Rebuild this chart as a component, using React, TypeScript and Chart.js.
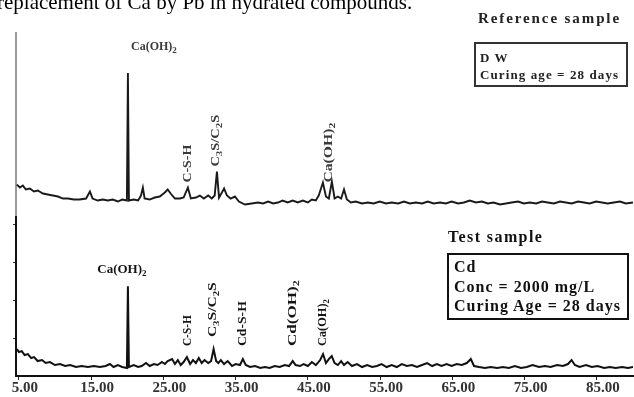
import React, { useEffect, useRef } from "react";
import { Chart, registerables } from "chart.js";

Chart.register(...registerables);

// ---------- data ----------
const xTickValues = [5, 15, 25, 35, 45, 55, 65, 75, 85];
const xTickLabels = ["5.00", "15.00", "25.00", "35.00", "45.00", "55.00", "65.00", "75.00", "85.00"];
const yBotTickValues = [37.5, 75.5, 114, 152];

// Reference sample (D W, 28 days) – 2θ and intensity (a.u.)
const topTheta = [
  4.72, 5.14, 5.55, 5.97, 6.52, 7.08, 7.63, 8.32, 9.0, 9.7, 10.4, 11.1, 11.8, 12.6, 13.4, 14.3, 14.83, 15.2,
  15.9, 16.6, 17.3, 18.0, 18.7, 19.3, 19.95, 20.09, 20.23, 20.9, 21.5, 21.9, 22.16, 22.4, 23.1, 23.8, 24.5,
  25.2, 25.6, 26.0, 26.6, 27.3, 27.8, 28.39, 28.8, 29.5, 30.05, 30.6, 31.2, 31.7, 32.1, 32.41, 32.7, 33.1,
  33.4, 33.8, 34.3, 34.9, 35.45, 36.3, 37.2, 38.1, 38.8, 39.5, 40.2, 40.85, 41.5, 42.2, 42.9, 43.6, 44.3,
  45.0, 45.55, 46.1, 46.5, 47.08, 47.5, 47.9, 48.32, 48.7, 49.15, 49.6, 50.0, 50.4, 50.95, 51.6, 52.5, 53.3,
  54.1, 54.96, 55.8, 56.6, 57.5, 58.3, 59.1, 59.95, 60.8, 61.6, 62.4, 63.3, 64.1, 64.9, 65.8, 66.6, 67.4,
  68.25, 69.1, 69.9, 70.7, 71.6, 72.4, 73.2, 74.1, 74.9, 75.7, 76.6, 77.4, 78.2, 79.05, 79.9, 80.7, 81.5,
  82.4, 83.2, 84.0, 84.9, 85.7, 86.5, 87.35, 88.2, 89.0, 90.0,
];
const topIntensity = [
  31, 28, 30, 26, 27, 24, 25, 22, 21, 20, 19, 17, 17, 16, 16, 17, 24, 17,
  15, 16, 15, 16, 14, 16, 15, 143, 15, 16, 15, 20, 28, 17, 16, 18, 19,
  23, 26, 22, 17, 17, 18, 28, 17, 18, 20, 17, 20, 17, 20, 44, 18, 23,
  27, 20, 17, 19, 14, 11, 12, 13, 12, 14, 12, 13, 15, 13, 15, 13, 15,
  13, 16, 15, 20, 33, 19, 17, 34, 17, 19, 17, 26, 16, 13, 14, 12, 13,
  12, 14, 12, 13, 12, 14, 12, 13, 12, 14, 12, 13, 12, 14, 12, 13, 15,
  13, 14, 12, 13, 11, 12, 13, 14, 12, 13, 12, 14, 13, 12, 14, 13, 12,
  14, 13, 12, 14, 13, 12, 13, 14, 12, 13,
];

// Test sample (Cd 2000 mg/L, 28 days)
const botTheta = [
  4.72, 5.0, 5.4, 5.8, 6.25, 6.7, 7.1, 7.6, 8.2, 8.7, 9.3, 10.0, 10.7, 11.4, 12.1, 12.9, 13.7, 14.55, 15.4,
  16.2, 17.0, 17.6, 18.1, 18.7, 19.3, 19.95, 20.09, 20.23, 20.9, 21.5, 22.0, 22.6, 23.1, 23.7, 24.2, 24.8,
  25.2, 25.6, 26.2, 26.6, 27.0, 27.4, 27.8, 28.25, 28.7, 29.1, 29.5, 29.9, 30.3, 30.7, 31.2, 31.6, 31.95,
  32.3, 32.6, 32.95, 33.4, 33.9, 34.5, 35.0, 35.6, 36.0, 36.4, 37.0, 37.7, 38.4, 39.05, 39.7, 40.4, 41.1,
  41.8, 42.4, 42.9, 43.3, 43.9, 44.4, 45.0, 45.55, 46.1, 46.7, 47.1, 47.5, 47.9, 48.3, 48.7, 49.15, 49.6,
  50.0, 50.5, 51.1, 51.8, 52.5, 53.2, 53.9, 54.55, 55.2, 55.9, 56.6, 57.3, 58.0, 58.7, 59.4, 60.1, 60.8,
  61.5, 62.2, 62.85, 63.5, 64.2, 64.9, 65.6, 66.3, 67.0, 67.55, 68.0, 68.7, 69.5, 70.3, 71.2, 72.0, 72.8,
  73.65, 74.5, 75.3, 76.1, 77.0, 77.8, 78.6, 79.5, 80.3, 81.0, 81.5, 81.95, 82.6, 83.5, 84.3, 85.1, 86.0,
  86.8, 87.6, 88.5, 89.3, 90.0,
];
const botIntensity = [
  27, 24, 25, 21, 22, 18, 19, 15, 16, 13, 14, 11, 12, 10, 11, 9, 10, 9, 10,
  9, 10, 12, 9, 11, 9, 8, 90, 9, 11, 9, 10, 13, 10, 12, 11, 14,
  12, 15, 17, 12, 16, 11, 14, 19, 12, 16, 13, 18, 13, 16, 13, 15, 27,
  15, 13, 16, 12, 15, 10, 12, 11, 17, 11, 9, 10, 8, 9, 8, 10, 9,
  11, 10, 15, 11, 10, 12, 10, 14, 11, 16, 22, 13, 17, 20, 13, 11, 15,
  11, 14, 10, 12, 9, 11, 9, 10, 12, 9, 11, 9, 12, 10, 11, 9, 11,
  13, 10, 12, 10, 12, 10, 12, 11, 13, 17, 10, 9, 8, 9, 8, 9, 8,
  10, 8, 9, 11, 9, 10, 9, 11, 10, 12, 16, 11, 9, 11, 9, 10, 8,
  9, 8, 9, 8, 9,
];

// Peak annotations: text, 2θ, and the intensity span the label covers
const topLabelText = ["Ca(OH)_2", "C-S-H", "C_3S/C_2S", "Ca(OH)_2"];
const topLabelTheta = [23.69, 28.39, 32.27, 47.9];
const topLabelFrom = [169, 33, 49, 33];
const topLabelTo = [169, 71, 101, 93];

const botLabelText = ["Ca(OH)_2", "C-S-H", "C_3S/C_2S", "Cd-S-H", "Cd(OH)_2", "Ca(OH)_2"];
const botLabelTheta = [19.26, 28.39, 31.85, 36.0, 42.9, 47.08];
const botLabelFrom = [107, 30, 39, 30, 30, 30];
const botLabelTo = [107, 61, 94, 75, 96, 77];

// ---------- helpers ----------
const SERIF = '"Liberation Serif", "Times New Roman", serif';

function splitRich(s: string) {
  const out: { t: string; sub: boolean }[] = [];
  let buf = "";
  let i = 0;
  while (i < s.length) {
    if (s[i] === "_" && i + 1 < s.length) {
      if (buf) out.push({ t: buf, sub: false });
      buf = "";
      out.push({ t: s[i + 1], sub: true });
      i += 2;
    } else {
      buf += s[i];
      i += 1;
    }
  }
  if (buf) out.push({ t: buf, sub: false });
  return out;
}

// Draws a label; horizontal when y0 === y1 (centred), otherwise vertical
// reading upward from y0 and stretched to reach y1.
function drawRich(
  ctx: CanvasRenderingContext2D,
  text: string,
  x: number,
  y0: number,
  y1: number,
  size: number,
  color: string
) {
  const parts = splitRich(text);
  const mainFont = `bold ${size}px ${SERIF}`;
  const subFont = `bold ${Math.round(size * 0.72)}px ${SERIF}`;
  ctx.save();
  const widths = parts.map((p) => {
    ctx.font = p.sub ? subFont : mainFont;
    return ctx.measureText(p.t).width;
  });
  const total = widths.reduce((a, b) => a + b, 0);
  const rotated = Math.abs(y0 - y1) > 0.5;
  ctx.translate(x, y0);
  if (rotated) {
    ctx.rotate(-Math.PI / 2);
    ctx.scale(Math.abs(y0 - y1) / total, 1);
  }
  ctx.textBaseline = "middle";
  ctx.textAlign = "left";
  ctx.fillStyle = color;
  let cx = rotated ? 0 : -total / 2;
  parts.forEach((p, i) => {
    ctx.font = p.sub ? subFont : mainFont;
    ctx.fillText(p.t, cx, p.sub ? size * 0.32 : 0);
    cx += widths[i];
  });
  ctx.restore();
}

const peakLabelPlugin = {
  id: "peakLabels",
  afterDatasetsDraw(chart: any) {
    const ctx = chart.ctx as CanvasRenderingContext2D;
    const xs = chart.scales.x;
    const yT = chart.scales.yT;
    const yB = chart.scales.yB;
    topLabelText.forEach((t, i) => {
      drawRich(
        ctx,
        t,
        xs.getPixelForValue(topLabelTheta[i]),
        yT.getPixelForValue(topLabelFrom[i]),
        yT.getPixelForValue(topLabelTo[i]),
        12,
        "#3a3a3a"
      );
    });
    botLabelText.forEach((t, i) => {
      drawRich(
        ctx,
        t,
        xs.getPixelForValue(botLabelTheta[i]),
        yB.getPixelForValue(botLabelFrom[i]),
        yB.getPixelForValue(botLabelTo[i]),
        13,
        "#151515"
      );
    });
  },
};

export default function App() {
  const canvasRef = useRef<HTMLCanvasElement | null>(null);

  useEffect(() => {
    if (!canvasRef.current) return;
    const chart = new Chart(canvasRef.current, {
      type: "line",
      data: {
        datasets: [
          {
            label: "Test sample",
            data: botTheta.map((x, i) => ({ x, y: botIntensity[i] })),
            yAxisID: "yB",
            xAxisID: "x",
            borderColor: "#111",
            borderWidth: 2,
            pointRadius: 0,
            tension: 0,
            fill: false,
          },
          {
            label: "Reference sample",
            data: topTheta.map((x, i) => ({ x, y: topIntensity[i] })),
            yAxisID: "yT",
            xAxisID: "x",
            borderColor: "#1a1a1a",
            borderWidth: 1.9,
            pointRadius: 0,
            tension: 0,
            fill: false,
          },
        ],
      },
      options: {
        animation: false,
        responsive: false,
        maintainAspectRatio: false,
        layout: { padding: { left: 13, top: 33, right: 1, bottom: 0 } },
        plugins: { legend: { display: false }, tooltip: { enabled: false } },
        scales: {
          x: {
            type: "linear",
            position: "bottom",
            min: 4.6,
            max: 90,
            afterBuildTicks: (s: any) => {
              s.ticks = xTickValues.map((v) => ({ value: v }));
            },
            ticks: {
              callback: (v: any) => {
                const k = xTickValues.indexOf(Number(v));
                return k >= 0 ? xTickLabels[k] : "";
              },
              font: { family: SERIF, size: 15, weight: "bold", lineHeight: 1.0 },
              color: "#333",
              padding: 1,
              maxRotation: 0,
              autoSkip: false,
              labelOffset: 6,
            },
            grid: {
              display: true,
              drawOnChartArea: false,
              drawTicks: true,
              tickLength: 4,
              color: "#222",
              lineWidth: 1,
            },
            border: { display: true, color: "#111", width: 2 },
          },
          yB: {
            type: "linear",
            position: "left",
            stack: "panels",
            stackWeight: 161,
            min: 0,
            max: 161,
            afterBuildTicks: (s: any) => {
              s.ticks = yBotTickValues.map((v) => ({ value: v }));
            },
            ticks: { display: false },
            grid: {
              display: true,
              drawOnChartArea: false,
              drawTicks: true,
              tickLength: 3,
              color: "#333",
            },
            border: { display: true, color: "#111", width: 2 },
          },
          yT: {
            type: "linear",
            position: "left",
            stack: "panels",
            stackWeight: 183,
            min: 0,
            max: 183,
            ticks: { display: false },
            grid: {
              display: true,
              drawOnChartArea: false,
              drawTicks: true,
              tickLength: 3,
              color: "rgba(0,0,0,0)",
            },
            border: { display: true, color: "#9a9a9a", width: 2 },
          },
        },
      } as any,
      plugins: [peakLabelPlugin],
    });
    return () => chart.destroy();
  }, []);

  const boxText: React.CSSProperties = {
    fontFamily: SERIF,
    fontWeight: "bold",
    color: "#111",
    whiteSpace: "nowrap",
  };

  return (
    <div
      style={{
        position: "fixed",
        left: 0,
        top: 0,
        width: 634,
        height: 397,
        overflow: "hidden",
        background: "#fff",
      }}
    >
      <canvas
        ref={canvasRef}
        width={634}
        height={397}
        style={{ position: "absolute", left: 0, top: 0, width: 634, height: 397 }}
      />
      <div
        style={{
          position: "absolute",
          left: -3,
          top: -8,
          fontFamily: SERIF,
          fontSize: 21,
          lineHeight: "21px",
          color: "#000",
          whiteSpace: "nowrap",
        }}
      >
        replacement of Ca by Pb in hydrated compounds.
      </div>
      <div
        style={{
          ...boxText,
          position: "absolute",
          left: 478,
          top: 10,
          fontSize: 15,
          lineHeight: "17px",
          letterSpacing: "1.9px",
          color: "#222",
        }}
      >
        Reference sample
      </div>
      <div
        style={{
          ...boxText,
          position: "absolute",
          left: 474,
          top: 42,
          width: 154,
          height: 45,
          boxSizing: "border-box",
          border: "2px solid #333",
          padding: "5px 0 0 4px",
          fontSize: 13,
          lineHeight: "17px",
          letterSpacing: "1.1px",
          color: "#222",
        }}
      >
        <div>D W</div>
        <div>Curing age = 28 days</div>
      </div>
      <div
        style={{
          ...boxText,
          position: "absolute",
          left: 448,
          top: 228,
          fontSize: 16,
          lineHeight: "18px",
          letterSpacing: "1.4px",
        }}
      >
        Test sample
      </div>
      <div
        style={{
          ...boxText,
          position: "absolute",
          left: 447,
          top: 253,
          width: 182,
          height: 67,
          boxSizing: "border-box",
          border: "2px solid #111",
          padding: "2px 0 0 5px",
          fontSize: 16,
          lineHeight: "19.5px",
          letterSpacing: "1px",
        }}
      >
        <div>Cd</div>
        <div>Conc = 2000 mg/L</div>
        <div>Curing Age = 28 days</div>
      </div>
    </div>
  );
}
